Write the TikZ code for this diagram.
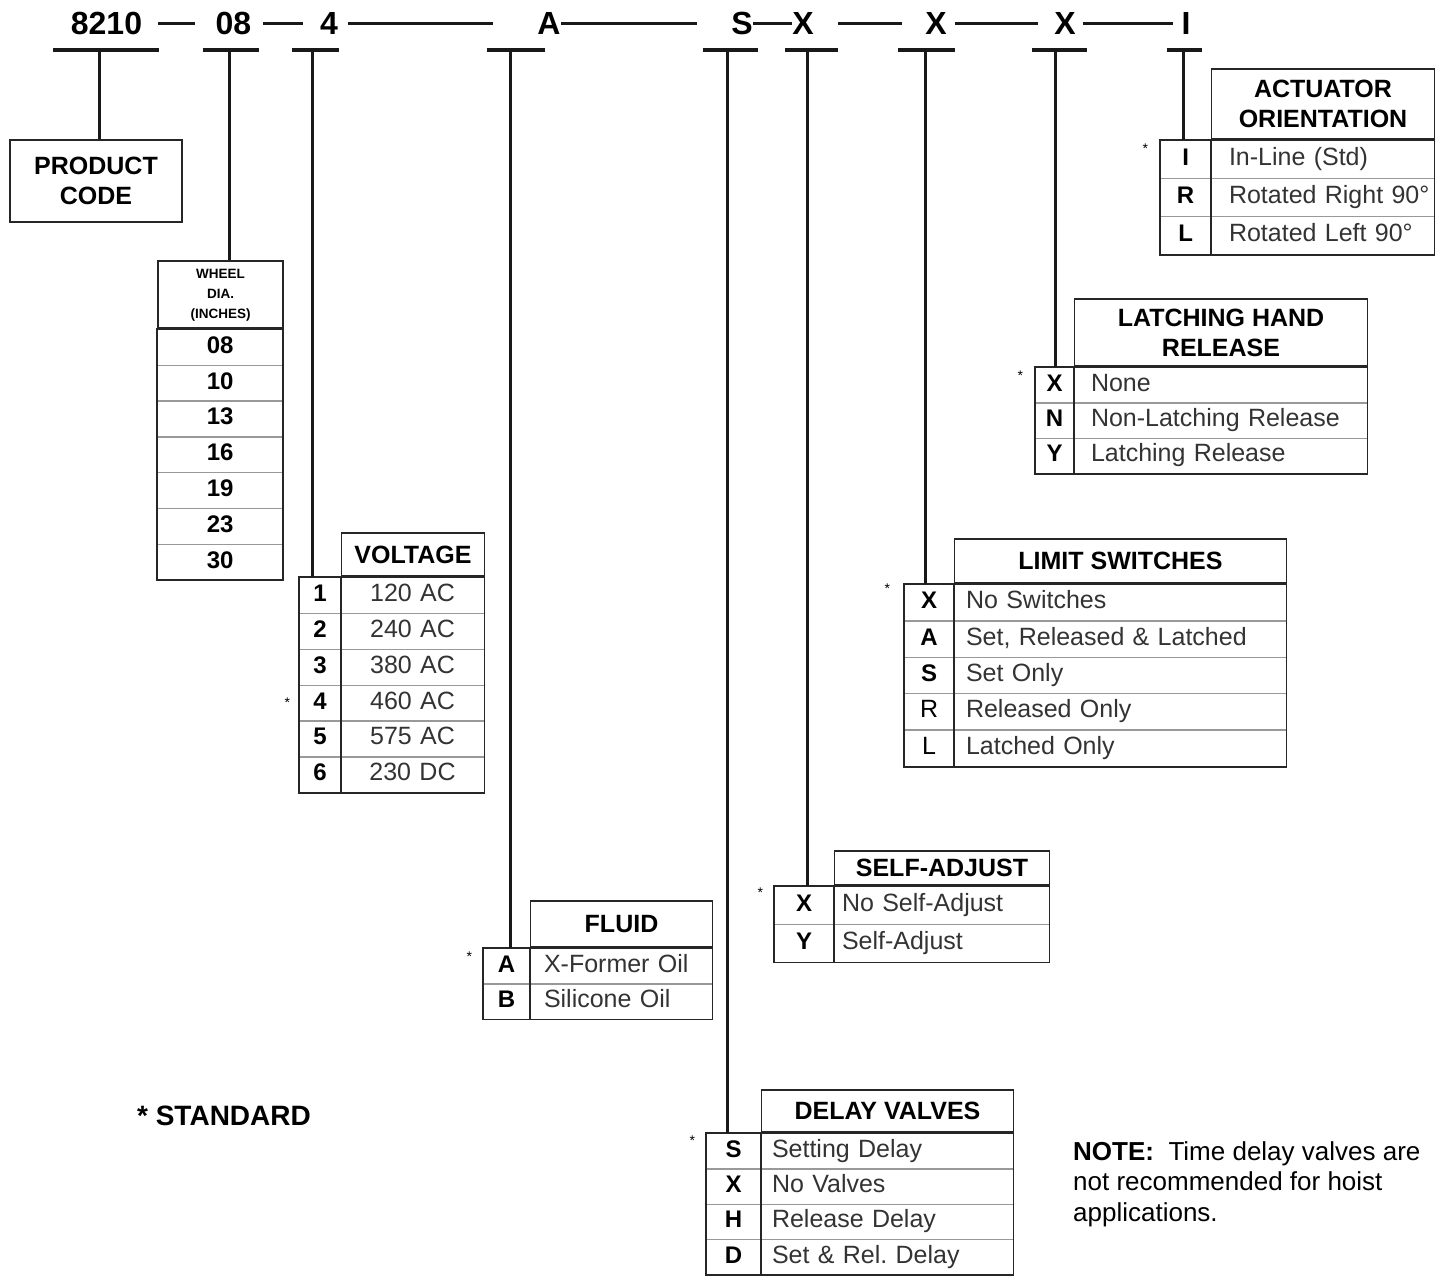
\documentclass[tikz,border=0pt]{standalone}
\usepackage{fontspec}
\setmainfont{Liberation Sans}
\usetikzlibrary{matrix, positioning, calc}

\newcommand\topcodefont{\fontsize{32}{32}\selectfont\bfseries}
\newcommand\tabtextfont{\fontsize{25}{25}\selectfont}
\newcommand\tabkeyfont{\fontsize{24}{24}\selectfont\bfseries}
\newcommand\tabheadfont{\fontsize{25}{30}\selectfont\bfseries}

\tikzset{
  code/.style={inner sep=0pt, font=\topcodefont},
  codedash/.style={line width=3pt, black!90},
  codebar/.style={line width=3.5pt, black!90},
  stem/.style={line width=3pt, black!90},
  cell/.style={draw=black!40, line width=0.8pt, inner sep=0pt, anchor=center, text height=18pt, text depth=6pt},
  keycell/.style={cell, font=\tabkeyfont},
  desccell/.style={cell, font=\tabtextfont, text=black!80},
  keylight/.style={font=\tabtextfont},
  opttab/.style n args={5}{matrix of nodes, anchor=north west, inner sep=0pt,
    column sep=-\pgflinewidth, row sep=-\pgflinewidth,
    nodes={minimum height=#1},
    column 1/.style={nodes={keycell, minimum width=#2}},
    column 2/.style={nodes={desccell, text width=#3, align=#5, execute at begin node=\hspace*{#4}}}},
  frame/.style={draw=black!85, line width=1.8pt},
  headbox/.style={frame, anchor=south west, inner sep=0pt, align=center, font=\tabheadfont},
  stdmark/.style={inner sep=0pt, font=\fontsize{14}{14}\selectfont}
}

\frenchspacing

\begin{document}
\begin{tikzpicture}[x=1pt, y=-1pt]
  \useasboundingbox (0,0) rectangle (1439,1276);

  % Code string
  \node[code] (c1) at (106.5,23.5) {8210};
  \node[code] (c2) at (233.5,23.5) {08};
  \node[code] (c3) at (329,23.5) {4};
  \node[code] (c4) at (549,23.5) {A};
  \node[code] (c5) at (742,23.5) {S};
  \node[code] (c6) at (803,23.5) {X};
  \node[code] (c7) at (936,23.5) {X};
  \node[code] (c8) at (1065,23.5) {X};
  \node[code] (c9) at (1186,23.5) {I};

  \foreach \a/\b/\s/\t in {c1/c2/16pt/21pt, c2/c3/11pt/17pt, c3/c4/10pt/44pt, c4/c5/0pt/34pt,
      c5/c6/0pt/0pt, c6/c7/24pt/23pt, c7/c8/8pt/16pt, c8/c9/7pt/8pt}
    \draw[codedash, shorten <=\s, shorten >=\t] (\a) -- (\b);

  % Bars under the code
  \foreach \n/\x/\l/\r in {1/99/53/159, 2/229/203/259, 3/312/292/339, 4/510/487/545, 5/727/703/758,
      6/807/785/838, 7/925/898/955, 8/1055/1032/1087, 9/1183/1167/1202} {
    \coordinate (s\n) at (\x,50);
    \draw[codebar] (\l,50) -- (\r,50);
  }

  % Product code
  \node[frame, minimum width=172pt, minimum height=82pt, align=center, inner sep=0pt,
    font=\fontsize{25}{30}\selectfont\bfseries] (prod) at (96,181) {PRODUCT\\CODE};

  % Wheel diameter
  \matrix[opttab={35.4pt}{125pt}{0pt}{0pt}{center}] (wheel) at (157,329) {
    08 \\ 10 \\ 13 \\ 16 \\ 19 \\ 23 \\ 30 \\
  };
  \node[headbox, minimum width=125pt, minimum height=67pt, font=\fontsize{13.5}{20}\selectfont\bfseries]
    (wheel-head) at (wheel-1-1.north west) {WHEEL\\DIA.\\(INCHES)};

  % Voltage
  \matrix[opttab={35.5pt}{41pt}{143pt}{0pt}{center}] (volt) at (299,577) {
    1 & 120 AC \\ 2 & 240 AC \\ 3 & 380 AC \\ 4 & 460 AC \\ 5 & 575 AC \\ 6 & 230 DC \\
  };
  \node[headbox, minimum width=143pt, minimum height=43pt] (volt-head) at (volt-1-2.north west) {VOLTAGE};

  % Fluid
  \matrix[opttab={35pt}{46pt}{182pt}{14pt}{left}] (fluid) at (483,948) {
    A & X-Former Oil \\ B & Silicone Oil \\
  };
  \node[headbox, minimum width=182pt, minimum height=46pt] (fluid-head) at (fluid-1-2.north west) {FLUID};

  % Delay valves
  \matrix[opttab={35pt}{54pt}{252pt}{11pt}{left}] (delay) at (706,1133) {
    S & Setting Delay \\ X & No Valves \\ H & Release Delay \\ D & Set \& Rel. Delay \\
  };
  \node[headbox, minimum width=252pt, minimum height=42pt] (delay-head) at (delay-1-2.north west) {DELAY VALVES};

  % Self-adjust
  \matrix[opttab={37.5pt}{59pt}{215pt}{8pt}{left}] (self) at (774,886) {
    X & No Self-Adjust \\ Y & Self-Adjust \\
  };
  \node[headbox, minimum width=215pt, minimum height=34pt] (self-head) at (self-1-2.north west) {SELF-ADJUST};

  % Limit switches
  \matrix[opttab={36pt}{49pt}{332pt}{12pt}{left}] (limit) at (904,584) {
    X & No Switches \\ A & Set, Released \& Latched \\ S & Set Only \\
    |[keylight]| R & Released Only \\ |[keylight]| L & Latched Only \\
  };
  \node[headbox, minimum width=332pt, minimum height=44pt] (limit-head) at (limit-1-2.north west) {LIMIT SWITCHES};

  % Latching hand release
  \matrix[opttab={35pt}{38pt}{293pt}{17pt}{left}] (latch) at (1035,367) {
    X & None \\ N & Non-Latching Release \\ Y & Latching Release \\
  };
  \node[headbox, minimum width=293pt, minimum height=67pt] (latch-head) at (latch-1-2.north west) {LATCHING HAND\\RELEASE};

  % Actuator orientation
  \matrix[opttab={37.7pt}{50pt}{223pt}{18pt}{left}] (act) at (1160,140) {
    I & In-Line (Std) \\ R & Rotated Right 90° \\ L & Rotated Left 90° \\
  };
  \node[headbox, minimum width=223pt, minimum height=70pt] (act-head) at (act-1-2.north west) {ACTUATOR\\ORIENTATION};

  % Outer frames
  \draw[frame] (wheel-1-1.north west) rectangle (wheel-7-1.south east);
  \foreach \t/\n in {volt/6, fluid/2, delay/4, self/2, limit/5, latch/3, act/3} {
    \draw[frame] (\t-1-1.north west) rectangle (\t-\n-2.south east);
    \draw[frame] (\t-1-1.north east) -- (\t-\n-1.south east);
  }

  % Stems
  \foreach \n/\tgt in {1/prod.north, 2/wheel-head.north, 3/volt-1-1.north, 4/fluid-1-1.north,
      5/delay-1-1.north, 6/self-1-1.north, 7/limit-1-1.north, 8/latch-1-1.north, 9/act-1-1.north}
    \draw[stem] (s\n) -- (s\n |- \tgt);

  % Standard marks
  \node[stdmark, left=9pt of volt-4-1] (m-volt) {*};
  \node[stdmark, left=11pt of fluid-1-1.north west, yshift=-8pt] (m-fluid) {*};
  \node[stdmark, left=11pt of delay-1-1.north west, yshift=-7pt] (m-delay) {*};
  \node[stdmark, left=11pt of self-1-1.north west, yshift=-6pt] (m-self) {*};
  \node[stdmark, left=14pt of limit-1-1.north west, yshift=-4pt] (m-limit) {*};
  \node[stdmark, left=12pt of latch-1-1.north west, yshift=-8pt] (m-latch) {*};
  \node[stdmark, left=12pt of act-1-1.north west, yshift=-8pt] (m-act) {*};

  % Notes
  \node[font=\fontsize{28}{28}\selectfont\bfseries] (std) at (224,1116) {* STANDARD};
  \node[anchor=north west, align=left, inner sep=0pt, font=\fontsize{26}{30.5}\selectfont]
    (note) at (1073,1141) {\textbf{NOTE:}\ \ Time delay valves are\\not recommended for hoist\\applications.};
\end{tikzpicture}
\end{document}
